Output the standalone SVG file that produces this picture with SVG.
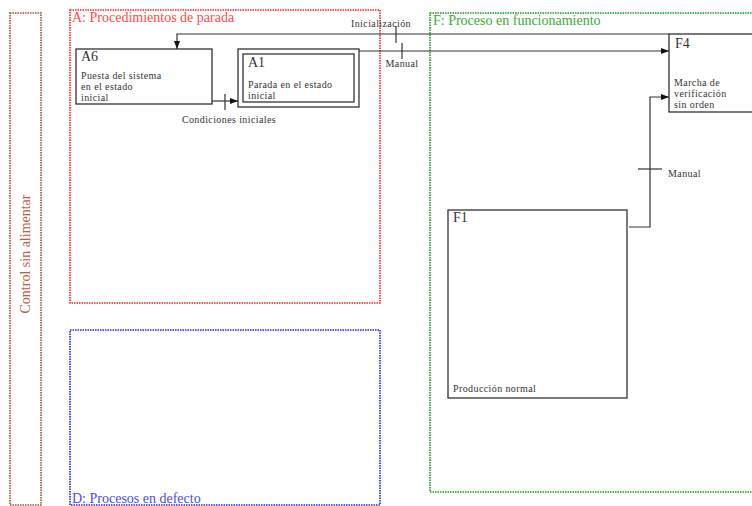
<svg xmlns="http://www.w3.org/2000/svg" width="752" height="506" viewBox="0 0 752 506" font-family="'Liberation Serif', 'Times New Roman', 'DejaVu Serif', serif">
<style>
text{font-family:'Liberation Serif','Times New Roman','DejaVu Serif',serif;fill:#333}
.t{font-size:14px}
.s{font-size:10px;letter-spacing:0.4px}
.box{fill:#fff;stroke:#222;stroke-width:1.2}
.con{fill:none;stroke:#333;stroke-width:1.2}
.grp{fill:none;stroke-width:1.6;stroke-dasharray:1.5 1}
</style>
<defs>
<marker id="ah" viewBox="0 0 8 6" refX="8" refY="3" markerWidth="8" markerHeight="6" markerUnits="userSpaceOnUse" orient="auto">
<path d="M0,0 L8,3 L0,6 z" fill="#111"/>
</marker>
</defs>
<g id="ctrl">
<rect x="10" y="13" width="31" height="492" class="grp" stroke="#a0522d" stroke-width="1"/>
<text class="t" transform="translate(30,254) rotate(-90)" text-anchor="middle" style="fill:#b8604a">Control sin alimentar</text>
</g>
<g id="grpA">
<rect x="70" y="10" width="310" height="293" class="grp" stroke="#ff2020"/>
<text class="t" x="72" y="22" style="fill:#ff4a4a">A: Procedimientos de parada</text>
</g>
<g id="grpD">
<rect x="70" y="330" width="310" height="175" class="grp" stroke="#2020ff"/>
<text class="t" x="72" y="503" style="fill:#4a4aff">D: Procesos en defecto</text>
</g>
<g id="grpF">
<rect x="430" y="13" width="340" height="479" class="grp" stroke="#10a010"/>
<text class="t" x="433" y="25" style="fill:#3aaa3a">F: Proceso en funcionamiento</text>
</g>
<g id="A6">
<rect x="76" y="49" width="136" height="55" class="box"/>
<text class="t" x="81" y="61">A6</text>
<text class="s" x="81" y="79">Puesta del sistema</text>
<text class="s" x="81" y="90">en el estado</text>
<text class="s" x="81" y="101">inicial</text>
</g>
<g id="A1">
<rect x="238" y="49" width="121" height="58" class="box"/>
<rect x="243" y="54" width="111" height="48" class="box"/>
<text class="t" x="248" y="67">A1</text>
<text class="s" x="248" y="88">Parada en el estado</text>
<text class="s" x="248" y="99">inicial</text>
</g>
<g id="F4">
<rect x="669" y="34" width="100" height="78" class="box"/>
<text class="t" x="675" y="48">F4</text>
<text class="s" x="674" y="86">Marcha de</text>
<text class="s" x="674" y="97">verificación</text>
<text class="s" x="674" y="108">sin orden</text>
</g>
<g id="F1">
<rect x="448" y="210" width="179" height="188" class="box"/>
<text class="t" x="453" y="222">F1</text>
<text class="s" x="453" y="392">Producción normal</text>
</g>
<g id="connectors">
<path class="con" d="M212,101 H238" marker-end="url(#ah)"/>
<path class="con" d="M225,94 V110"/>
<text class="s" x="229" y="123" text-anchor="middle">Condiciones iniciales</text>
<path class="con" d="M669,34 H177 V49" marker-end="url(#ah)"/>
<path class="con" d="M396,26 V43"/>
<text class="s" x="381" y="27" text-anchor="middle">Inicialización</text>
<path class="con" d="M359,51 H669" marker-end="url(#ah)"/>
<path class="con" d="M402,43 V59"/>
<text class="s" x="402" y="67" text-anchor="middle">Manual</text>
<path class="con" d="M629,227 H650 V97 H669" marker-end="url(#ah)"/>
<path class="con" d="M638,169 H662"/>
<text class="s" x="668" y="177">Manual</text>
</g>
</svg>
